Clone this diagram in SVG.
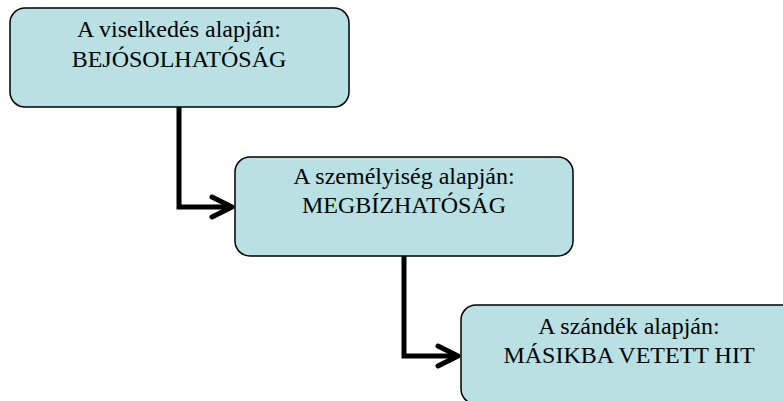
<svg xmlns="http://www.w3.org/2000/svg" width="783" height="401" viewBox="0 0 783 401">
<style>
.box{fill:#B9E0E3;stroke:#000;stroke-width:1.5}
.t{font-family:"Liberation Serif","Times New Roman",serif;font-size:24px;fill:#000;text-anchor:middle}
.c{fill:none;stroke:#000;stroke-width:5;stroke-linejoin:miter}
.a{fill:none;stroke:#000;stroke-width:5;stroke-linecap:round;stroke-linejoin:round}
</style>
<g id="connectors">
<polyline class="c" points="179,107 179,207 231,207"/>
<polyline class="a" points="212,197 232,207 212,217"/>
<polyline class="c" points="404,256 404,356 457,356"/>
<polyline class="a" points="438,346 458,356 438,366"/>
</g>
<g id="node1">
<rect class="box" x="10" y="8" width="339" height="99" rx="15"/>
<text class="t" x="179" y="37">A viselkedés alapján:</text>
<text class="t" x="179" y="67">BEJÓSOLHATÓSÁG</text>
</g>
<g id="node2">
<rect class="box" x="235" y="157" width="338" height="99" rx="15"/>
<text class="t" x="404" y="184">A személyiség alapján:</text>
<text class="t" x="404" y="213">MEGBÍZHATÓSÁG</text>
</g>
<g id="node3">
<rect class="box" x="461" y="305" width="338" height="99" rx="15"/>
<text class="t" x="629" y="334">A szándék alapján:</text>
<text class="t" x="629" y="363">MÁSIKBA VETETT HIT</text>
</g>
</svg>
